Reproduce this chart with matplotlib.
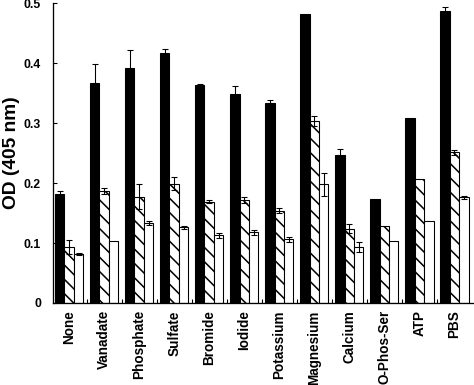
import matplotlib
matplotlib.use("Agg")
import matplotlib.pyplot as plt
import numpy as np

categories = ["None", "Vanadate", "Phosphate", "Sulfate", "Bromide", "Iodide",
              "Potassium", "Magnesium", "Calcium", "O-Phos-Ser", "ATP", "PBS"]
black_vals = [0.181, 0.367, 0.391, 0.416, 0.363, 0.349, 0.334, 0.482, 0.246, 0.173, 0.308, 0.486]
black_err = [0.006, 0.031, 0.031, 0.008, 0.002, 0.013, 0.004, 0.0, 0.010, 0.0, 0.0, 0.008]
hatch_vals = [0.093, 0.187, 0.177, 0.199, 0.169, 0.171, 0.154, 0.303, 0.124, 0.128, 0.206, 0.251]
hatch_err = [0.012, 0.005, 0.021, 0.011, 0.002, 0.005, 0.004, 0.008, 0.008, 0.0, 0.0, 0.004]
white_vals = [0.082, 0.104, 0.133, 0.126, 0.113, 0.118, 0.106, 0.198, 0.093, 0.104, 0.137, 0.176]
white_err = [0.002, 0.0, 0.003, 0.002, 0.004, 0.004, 0.004, 0.019, 0.008, 0.0, 0.0, 0.002]
y_ticks = [0, 0.1, 0.2, 0.3, 0.4, 0.5]
y_tick_labels = ["0", "0.1", "0.2", "0.3", "0.4", "0.5"]
y_label = "OD (405 nm)"

DPI = 86
plt.rcParams['font.family'] = ['Liberation Sans', 'DejaVu Sans']
plt.rcParams['font.weight'] = 'bold'
plt.rcParams['hatch.linewidth'] = 1.3

fig = plt.figure(figsize=(474 / DPI, 385 / DPI), dpi=DPI)
ax = fig.add_axes([0.1118, 0.213, 0.886, 0.779])

x = np.arange(len(categories))
w = 0.271
series = [
    (black_vals, black_err, 'black', None),
    (hatch_vals, hatch_err, 'white', '\\\\'),
    (white_vals, white_err, 'white', None),
]
for k, (vals, errs, fc, hatch) in enumerate(series):
    pos = x + k * w + w / 2
    ax.bar(pos, vals, width=w, color=fc, edgecolor='black', linewidth=0.9,
           hatch=hatch, zorder=2)
    errs = np.array(errs)
    mask = errs > 0
    ax.errorbar(pos[mask], np.array(vals)[mask], yerr=errs[mask], fmt='none',
                ecolor='black', elinewidth=0.9, capsize=2.2, capthick=0.9, zorder=3)

ax.set_xlim(-0.057, 11.94)
ax.set_ylim(0, 0.5)

ax.set_xticks(x + 1.5 * w)
ax.set_xticklabels(categories, rotation=90, fontsize=11.3, fontweight='bold')
ax.set_xticks(x[:-1] + 3 * w + (1 - 3 * w) / 2, minor=True)
ax.tick_params(axis='x', which='major', length=0, pad=6)
ax.tick_params(axis='x', which='minor', direction='in', length=3.5, width=0.9)

ax.set_yticks(y_ticks)
ax.set_yticklabels(y_tick_labels, fontsize=10.3, fontweight='bold')
ax.tick_params(axis='y', direction='in', length=3.5, width=0.9, pad=10)

ax.set_ylabel(y_label, fontsize=16, fontweight='bold', labelpad=3)

for s in ['top', 'right']:
    ax.spines[s].set_visible(False)
for s in ['left', 'bottom']:
    ax.spines[s].set_linewidth(1.1)

fig.savefig("out.png", dpi=DPI)
